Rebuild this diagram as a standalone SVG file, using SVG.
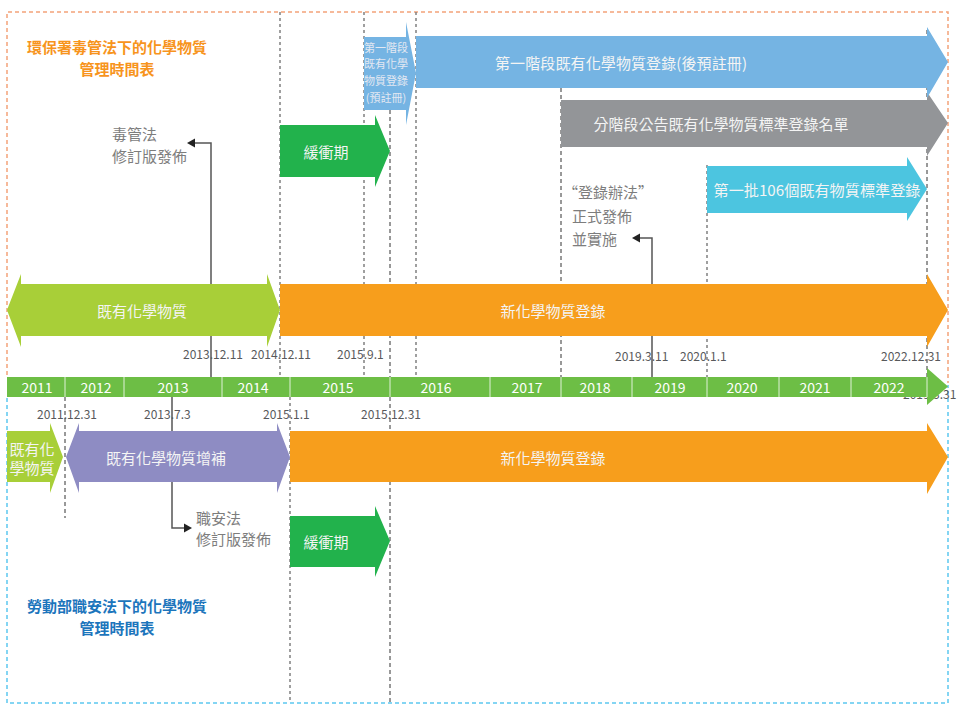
<svg xmlns="http://www.w3.org/2000/svg" width="963" height="708" viewBox="0 0 963 708">
<defs>
<style>
text{font-family:"Noto Sans CJK TC","Noto Sans",sans-serif;}
.in{fill:#f4f4f4;font-size:15px;text-anchor:middle;dominant-baseline:central;}
.sm{fill:#e3e8f2;font-size:11px;text-anchor:middle;dominant-baseline:central;}
.lbl{fill:#7d7d7d;font-size:15px;dominant-baseline:central;}
.dt{fill:#58595b;font-size:12px;dominant-baseline:central;}
.yr{fill:#ffffff;font-size:14px;text-anchor:middle;dominant-baseline:central;}
.t1{fill:#f7941d;font-size:15px;font-weight:bold;text-anchor:middle;dominant-baseline:central;}
.t2{fill:#1c75bc;font-size:15px;font-weight:bold;text-anchor:middle;dominant-baseline:central;}
.gd{fill:none;stroke:#808080;stroke-width:1.5;stroke-dasharray:3 3;}
.bd{fill:none;stroke:#333333;stroke-width:1;stroke-dasharray:4 3;}
.ln{fill:none;stroke:#555555;stroke-width:1.5;}
.ah{fill:#222222;}
.sep{stroke:#ffffff;stroke-width:1;opacity:0.8;}
</style>
</defs>
<rect width="963" height="708" fill="#ffffff"/>
<g id="frames">
<path d="M7,375 V12 H948 V383" fill="none" stroke="#f4a27a" stroke-width="1.5" stroke-dasharray="4 3"/>
<path d="M7,398 V703 H948 V385" fill="none" stroke="#5cc8f0" stroke-width="1.5" stroke-dasharray="4 3"/>
</g>
<g id="guides">
<line class="gd" x1="280" y1="12" x2="280" y2="377"/>
<line class="gd" x1="364" y1="12" x2="364" y2="377"/>
<line class="gd" x1="416" y1="12" x2="416" y2="377"/>
<line class="bd" x1="390" y1="110" x2="390" y2="703"/>
<line class="bd" x1="561" y1="88" x2="561" y2="377"/>
<line class="gd" x1="707" y1="165" x2="707" y2="377"/>
<line class="bd" x1="927" y1="30" x2="927" y2="377"/>
<line class="bd" x1="65" y1="397" x2="65" y2="518"/>
<line class="gd" x1="290" y1="397" x2="290" y2="703"/>
</g>
<g id="connectors">
<polyline class="ln" points="211,377 211,143 195,143"/>
<polygon class="ah" points="187,143 195,138.5 195,147.5"/>
<polyline class="ln" points="172,397 172,528 184,528"/>
<polygon class="ah" points="192,528 184,523.5 184,532.5"/>
<polyline class="ln" points="652,377 652,238 640,238"/>
<polygon class="ah" points="632,238 640,233.5 640,242.5"/>
</g>
<g id="title-epa">
<text class="t1" x="117" y="46">環保署毒管法下的化學物質</text>
<text class="t1" x="117" y="68">管理時間表</text>
</g>
<g id="title-mol">
<text class="t2" x="117" y="605">勞動部職安法下的化學物質</text>
<text class="t2" x="117" y="627">管理時間表</text>
</g>
<g id="arrow-gray">
<polygon fill="#939598" points="561,100 927,100 927,92 948,123 927,156 927,147 561,147"/>
<text class="in" x="721" y="123">分階段公告既有化學物質標準登錄名單</text>
</g>
<g id="arrow-blue">
<polygon fill="#75b4e3" points="416,36 927,36 927,27 948,62 927,98 927,88 416,88"/>
<text class="in" x="621" y="62" textLength="252" lengthAdjust="spacing">第一階段既有化學物質登錄(後預註冊)</text>
</g>
<g id="arrow-blue-small">
<polygon fill="#75b4e3" points="364,37 406,37 406,22 416,73 406,125 406,110 364,110"/>
<text class="sm" x="386" y="47">第一階段</text>
<text class="sm" x="386" y="63">既有化學</text>
<text class="sm" x="386" y="80">物質登錄</text>
<text class="sm" x="386" y="97">(預註冊)</text>
</g>
<g id="arrow-buffer-top">
<polygon fill="#22b24c" points="280,125 375,125 375,115 390,151 375,187 375,177 280,177"/>
<text class="in" x="326" y="151">緩衝期</text>
</g>
<g id="arrow-cyan">
<polygon fill="#4cc5e0" points="707,166 907,166 907,157 927,189 907,221 907,213 707,213"/>
<text class="in" x="817" y="189" textLength="207" lengthAdjust="spacingAndGlyphs">第一批106個既有物質標準登錄</text>
</g>
<g id="label-toxic">
<text class="lbl" x="112" y="133">毒管法</text>
<text class="lbl" x="112" y="155">修訂版發佈</text>
</g>
<g id="label-reg">
<text class="lbl" x="563" y="191">“登錄辦法”</text>
<text class="lbl" x="572" y="215">正式發佈</text>
<text class="lbl" x="572" y="238">並實施</text>
</g>
<g id="arrow-existing-top">
<polygon fill="#a8cf38" points="7,310 21,274 21,284 267,284 267,274 280,310 267,347 267,336 21,336 21,347"/>
<text class="in" x="142" y="310">既有化學物質</text>
</g>
<g id="arrow-new-top">
<polygon fill="#f79e1c" points="280,284 927,284 927,274 948,310 927,347 927,336 280,336"/>
<text class="in" x="553" y="310">新化學物質登錄</text>
</g>
<g id="dates-top">
<text class="dt" x="183" y="353">2013.12.11</text>
<text class="dt" x="251" y="353">2014.12.11</text>
<text class="dt" x="337" y="353">2015.9.1</text>
<text class="dt" x="615" y="355">2019.3.11</text>
<text class="dt" x="680" y="355">2020.1.1</text>
<text class="dt" x="881" y="355">2022.12.31</text>
</g>
<g id="date-hidden">
<text class="dt" x="903" y="393">2019.3.31</text>
</g>
<g id="timeline">
<rect x="7" y="377" width="920" height="20" fill="#6dbe45"/>
<polygon fill="#6dbe45" points="927,368 948,386.5 927,405"/>
<line class="sep" x1="65" y1="377" x2="65" y2="397"/>
<line class="sep" x1="124" y1="377" x2="124" y2="397"/>
<line class="sep" x1="222" y1="377" x2="222" y2="397"/>
<line class="sep" x1="290" y1="377" x2="290" y2="397"/>
<line class="sep" x1="390" y1="377" x2="390" y2="397"/>
<line class="sep" x1="490" y1="377" x2="490" y2="397"/>
<line class="sep" x1="561" y1="377" x2="561" y2="397"/>
<line class="sep" x1="632" y1="377" x2="632" y2="397"/>
<line class="sep" x1="707" y1="377" x2="707" y2="397"/>
<line class="sep" x1="779" y1="377" x2="779" y2="397"/>
<line class="sep" x1="851" y1="377" x2="851" y2="397"/>
<line class="sep" x1="927" y1="377" x2="927" y2="397"/>
<text class="yr" x="37" y="387">2011</text>
<text class="yr" x="96" y="387">2012</text>
<text class="yr" x="173" y="387">2013</text>
<text class="yr" x="253" y="387">2014</text>
<text class="yr" x="338" y="387">2015</text>
<text class="yr" x="436" y="387">2016</text>
<text class="yr" x="527" y="387">2017</text>
<text class="yr" x="595" y="387">2018</text>
<text class="yr" x="670" y="387">2019</text>
<text class="yr" x="742" y="387">2020</text>
<text class="yr" x="815" y="387">2021</text>
<text class="yr" x="889" y="387">2022</text>
</g>
<g id="dates-bottom">
<text class="dt" x="37" y="413">2011.12.31</text>
<text class="dt" x="144" y="413">2013.7.3</text>
<text class="dt" x="263" y="413">2015.1.1</text>
<text class="dt" x="361" y="413">2015.12.31</text>
</g>
<g id="arrow-existing-bottom">
<polygon fill="#a8cf38" points="7,431 50,431 50,423 63,457 50,493 50,482 7,482"/>
<text class="in" x="32" y="448">既有化</text>
<text class="in" x="32" y="467">學物質</text>
</g>
<g id="arrow-supplement">
<polygon fill="#8e8cc3" points="66,457 79,423 79,431 277,431 277,423 290,457 277,493 277,482 79,482 79,493"/>
<text class="in" x="166" y="457">既有化學物質增補</text>
</g>
<g id="arrow-new-bottom">
<polygon fill="#f79e1c" points="290,431 927,431 927,423 948,457 927,494 927,482 290,482"/>
<text class="in" x="553" y="457">新化學物質登錄</text>
</g>
<g id="arrow-buffer-bottom">
<polygon fill="#22b24c" points="290,516 375,516 375,506 390,541 375,577 375,567 290,567"/>
<text class="in" x="326" y="541">緩衝期</text>
</g>
<g id="label-osh">
<text class="lbl" x="196" y="517">職安法</text>
<text class="lbl" x="196" y="538">修訂版發佈</text>
</g>
</svg>
